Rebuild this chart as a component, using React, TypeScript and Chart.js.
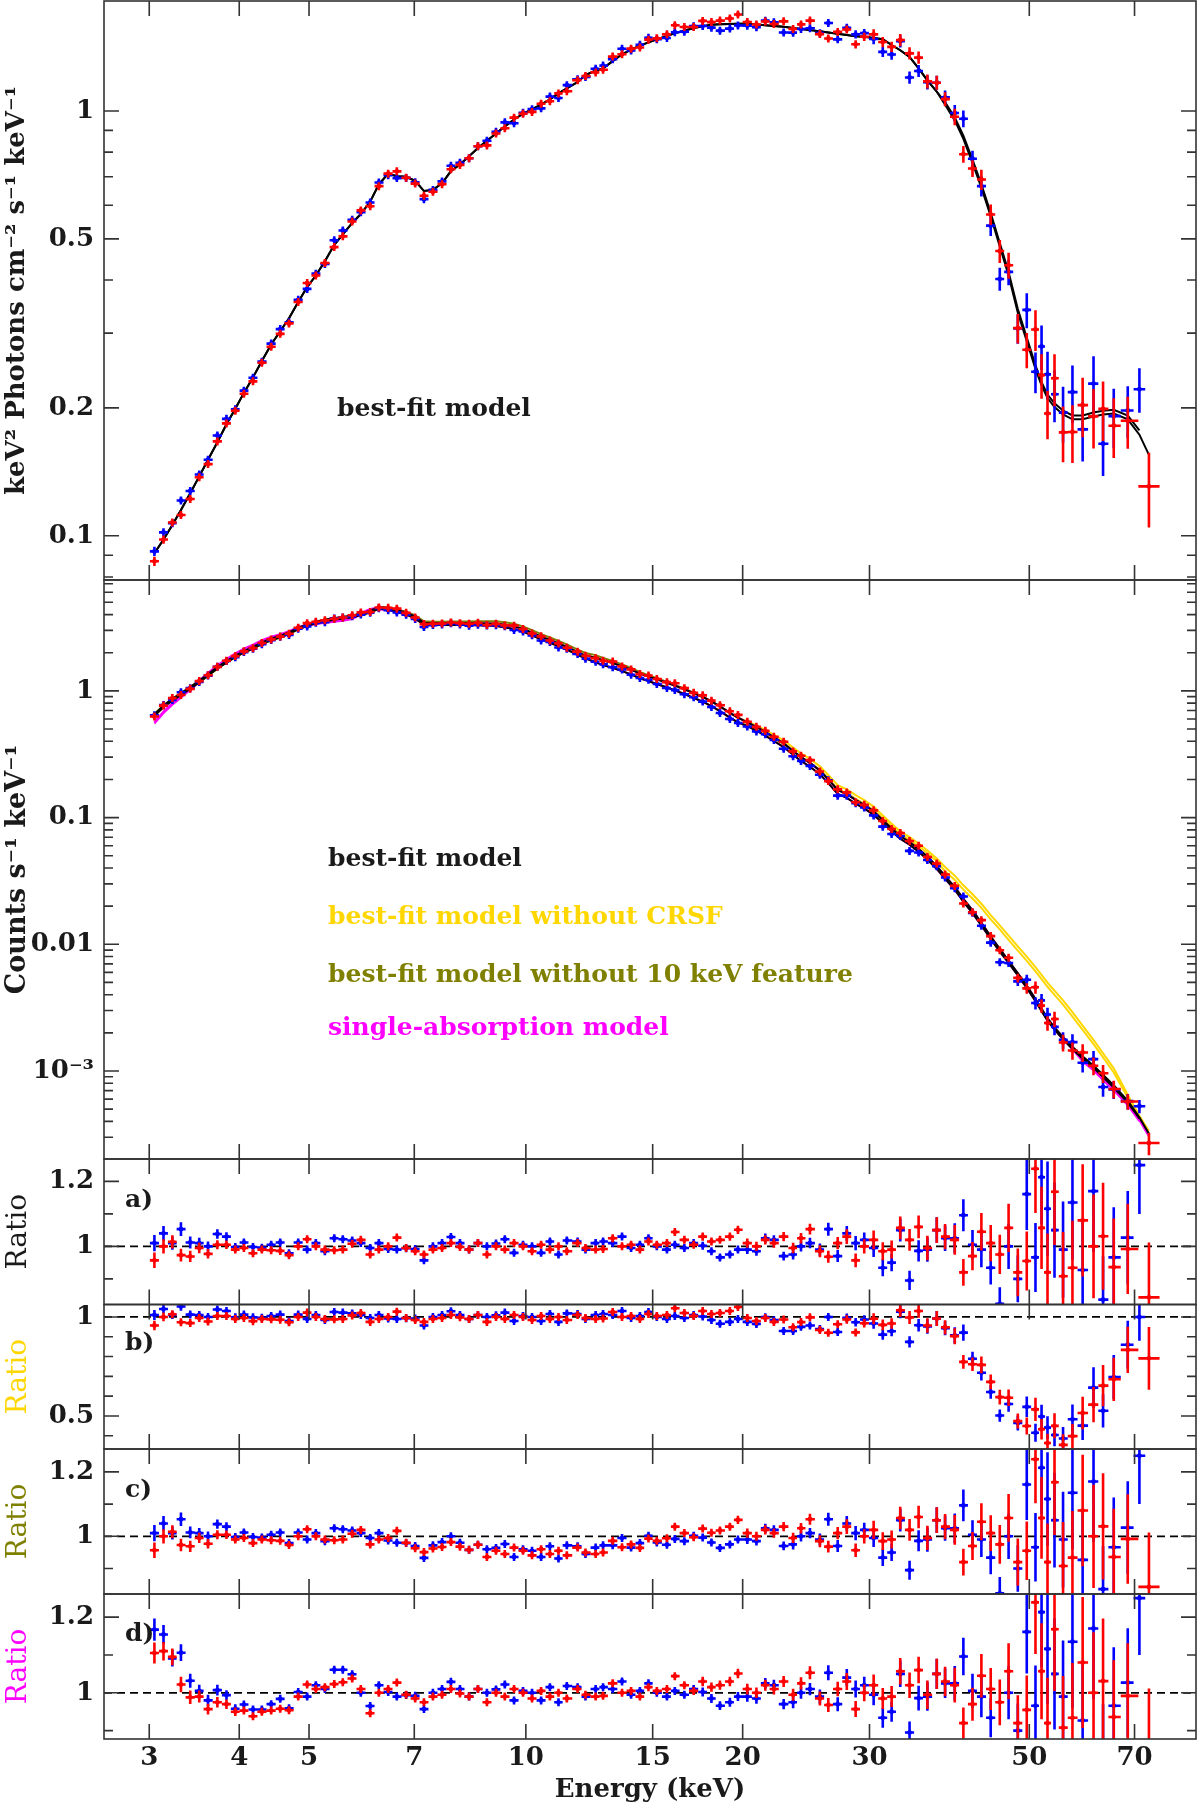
import { useEffect, useRef } from "react"
import { Chart, registerables } from "chart.js"

Chart.register(...registerables)

type Val = number | null

// bin centres (keV), shared by both detectors; null marks a bin one detector lacks
const energies = [
  3.05, 3.14, 3.23, 3.32, 3.42, 3.52, 3.62, 3.73, 3.84, 3.95,
  4.06, 4.18, 4.3, 4.43, 4.56, 4.69, 4.83, 4.97, 5.11, 5.26,
  5.42, 5.57, 5.74, 5.9, 6.08, 6.25, 6.44, 6.62, 6.82, 7.02,
  7.22, 7.43, 7.65, 7.87, 8.1, 8.34, 8.58, 8.83, 9.09, 9.35,
  9.63, 9.91, 10.2, 10.5, 10.8, 11.1, 11.4, 11.8, 12.1, 12.5,
  12.8, 13.2, 13.6, 14.0, 14.4, 14.8, 15.2, 15.7, 16.1, 16.6,
  17.1, 17.6, 18.1, 18.6, 19.2, 19.7, 20.3, 20.9, 21.5, 22.1,
  22.8, 23.5, 24.1, 24.8, 25.6, 26.3, 27.1, 27.9, 28.7, 29.5,
  30.4, 31.3, 32.2, 33.1, 34.1, 35.1, 36.1, 37.2, 38.2, 39.4,
  40.5, 41.7, 42.9, 44.2, 45.5, 46.8, 48.2, 49.6, 51.0, 52.0,
  53.0, 54.2, 55.7, 57.4, 59.3, 61.4, 63.3, 65.5, 68.5, 71.1,
  73.3,
]

// 1-sigma fractional error of each bin
const fracErr = [
  0.025, 0.022, 0.02, 0.02, 0.018, 0.016, 0.015, 0.014, 0.013, 0.012,
  0.01, 0.01, 0.01, 0.01, 0.01, 0.01, 0.01, 0.01, 0.01, 0.01,
  0.01, 0.009, 0.009, 0.009, 0.009, 0.009, 0.009, 0.009, 0.009, 0.009,
  0.009, 0.009, 0.009, 0.009, 0.009, 0.009, 0.009, 0.009, 0.009, 0.009,
  0.009, 0.009, 0.009, 0.009, 0.009, 0.009, 0.009, 0.009, 0.009, 0.009,
  0.009, 0.01, 0.01, 0.01, 0.01, 0.01, 0.01, 0.01, 0.01, 0.01,
  0.01, 0.012, 0.012, 0.012, 0.012, 0.012, 0.014, 0.014, 0.014, 0.014,
  0.014, 0.016, 0.016, 0.016, 0.019, 0.019, 0.019, 0.022, 0.022, 0.022,
  0.028, 0.028, 0.028, 0.033, 0.033, 0.033, 0.038, 0.038, 0.038, 0.045,
  0.045, 0.045, 0.055, 0.055, 0.062, 0.07, 0.08, 0.095, 0.11, 0.12,
  0.13, 0.14, 0.15, 0.155, 0.16, 0.16, 0.16, 0.16, 0.14, 0.12,
  0.2,
]

// top panel: unfolded spectrum (keV^2 photons cm^-2 s^-1 keV^-1)
const fluxRed: Val[] = [
  0.0871, 0.098, 0.1075, 0.1119, 0.1221, 0.1373, 0.1475, 0.1668, 0.1839, 0.197,
  0.2159, 0.231, 0.2554, 0.2786, 0.2988, 0.3162, 0.355, 0.3935, 0.41, 0.4386,
  0.4782, 0.5069, 0.5494, 0.5834, 0.5967, 0.6653, 0.712, 0.721, 0.6965, 0.6747,
  0.6318, 0.6455, 0.6726, 0.7292, 0.7465, 0.7742, 0.8262, 0.8297, 0.885, 0.9108,
  0.9646, 0.985, 0.9949, 1.0402, 1.0544, 1.1, 1.1131, 1.1817, 1.2089, 1.2326,
  1.2499, 1.3428, 1.36, 1.402, 1.4108, 1.4718, 1.4824, 1.515, 1.5921, 1.5759,
  1.5758, 1.6295, 1.6189, 1.632, 1.6511, 1.6869, 1.62, 1.598, 1.6238, 1.6019,
  1.6253, 1.5602, 1.599, 1.6322, 1.5169, 1.481, 1.5352, 1.5553, 1.4355, 1.495,
  1.5147, 1.4529, 1.4157, 1.4692, 1.3668, 1.3356, 1.1741, 1.1655, 1.0661, 0.969,
  0.7912, 0.7324, 0.6897, 0.5707, 0.468, 0.4334, 0.3082, 0.2741, 0.306, 0.2389,
  0.1941, 0.2348, 0.1752, 0.1756, 0.203, 0.191, 0.199, 0.1816, 0.1865, null,
  0.1307,
]
const fluxBlue: Val[] = [
  0.0919, 0.1019, 0.1071, 0.1211, 0.1275, 0.1394, 0.151, 0.1723, 0.1885, 0.1986,
  0.2196, 0.2355, 0.257, 0.2834, 0.3066, 0.3182, 0.3593, 0.3812, 0.4141, 0.4364,
  0.4961, 0.5233, 0.5548, 0.5777, 0.6089, 0.6787, 0.7063, 0.695, 0.6958, 0.6795,
  0.6201, 0.652, 0.6828, 0.7429, 0.7555, 0.7742, 0.8262, 0.851, 0.893, 0.9402,
  0.9359, 0.9899, 1.01, 1.0143, 1.081, 1.0725, 1.1503, 1.1876, 1.2029, 1.2575,
  1.2789, 1.3231, 1.4008, 1.388, 1.4321, 1.4863, 1.475, 1.485, 1.5326, 1.5373,
  1.5837, 1.5852, 1.5711, 1.5456, 1.5629, 1.589, 1.588, 1.574, 1.6318, 1.6177,
  1.5307, 1.5288, 1.56, 1.5655, 1.5246, 1.6111, 1.4744, 1.5704, 1.515, 1.5249,
  1.4776, 1.3777, 1.3585, 1.4595, 1.1993, 1.2424, 1.1682, 1.1655, 1.0763, 0.9891,
  0.959, 0.7718, 0.6653, 0.5371, 0.4024, 0.418, 0.3078, 0.3402, 0.2434, 0.279,
  0.2399, 0.2153, 0.195, 0.2179, 0.178, 0.2282, 0.1647, 0.1913, 0.1972, 0.2213,
  null,
]
const fluxModelRed: Val[] = [
  0.091, 0.098, 0.106, 0.115, 0.126, 0.138, 0.151, 0.166, 0.183, 0.199,
  0.217, 0.236, 0.258, 0.282, 0.303, 0.325, 0.355, 0.385, 0.41, 0.443,
  0.484, 0.512, 0.545, 0.572, 0.612, 0.672, 0.712, 0.702, 0.7, 0.685,
  0.648, 0.652, 0.676, 0.722, 0.748, 0.782, 0.818, 0.851, 0.885, 0.92,
  0.955, 0.985, 1.01, 1.035, 1.065, 1.1, 1.13, 1.17, 1.215, 1.245,
  1.26, 1.31, 1.36, 1.395, 1.425, 1.45, 1.475, 1.5, 1.525, 1.545,
  1.568, 1.582, 1.595, 1.6, 1.603, 1.605, 1.604, 1.598, 1.592, 1.586,
  1.578, 1.568, 1.56, 1.55, 1.54, 1.53, 1.52, 1.51, 1.5, 1.495,
  1.485, 1.475, 1.43, 1.39, 1.34, 1.26, 1.18, 1.11, 1.035, 0.95,
  0.86, 0.755, 0.66, 0.565, 0.48, 0.41, 0.335, 0.287, 0.247, 0.226,
  0.211, 0.201, 0.193, 0.188, 0.188, 0.191, 0.193, 0.194, 0.188, 0.173,
  0.155,
]
const fluxModelBlue: Val[] = [
  0.091, 0.098, 0.106, 0.115, 0.126, 0.138, 0.151, 0.166, 0.183, 0.199,
  0.217, 0.236, 0.258, 0.282, 0.303, 0.325, 0.355, 0.385, 0.41, 0.443,
  0.484, 0.512, 0.545, 0.572, 0.612, 0.672, 0.712, 0.702, 0.7, 0.685,
  0.648, 0.652, 0.676, 0.722, 0.748, 0.782, 0.818, 0.851, 0.885, 0.92,
  0.955, 0.985, 1.01, 1.035, 1.065, 1.1, 1.13, 1.17, 1.215, 1.245,
  1.26, 1.31, 1.36, 1.395, 1.425, 1.45, 1.475, 1.5, 1.525, 1.545,
  1.568, 1.582, 1.595, 1.6, 1.603, 1.605, 1.604, 1.598, 1.592, 1.586,
  1.578, 1.568, 1.56, 1.55, 1.54, 1.53, 1.52, 1.51, 1.5, 1.495,
  1.485, 1.475, 1.43, 1.39, 1.34, 1.26, 1.18, 1.11, 1.05, 0.965,
  0.875, 0.768, 0.672, 0.575, 0.489, 0.418, 0.342, 0.293, 0.252, 0.23,
  0.215, 0.205, 0.197, 0.192, 0.192, 0.195, 0.197, 0.198, 0.192, 0.177,
  null,
]

// middle panel: counts s^-1 keV^-1
const countsRed: Val[] = [
  0.627, 0.765, 0.877, 0.929, 1.037, 1.194, 1.329, 1.548, 1.729, 1.881,
  2.05, 2.173, 2.386, 2.549, 2.682, 2.822, 3.15, 3.424, 3.51, 3.604,
  3.705, 3.792, 3.951, 4.162, 4.193, 4.554, 4.52, 4.457, 4.129, 3.792,
  3.364, 3.386, 3.403, 3.464, 3.423, 3.386, 3.444, 3.315, 3.38, 3.287,
  3.272, 3.08, 2.837, 2.693, 2.495, 2.37, 2.187, 2.04, 1.891, 1.812,
  1.726, 1.702, 1.56, 1.477, 1.356, 1.32, 1.241, 1.172, 1.148, 1.051,
  0.965, 0.922, 0.837, 0.77, 0.69, 0.646, 0.571, 0.52, 0.485, 0.434,
  0.397, 0.333, 0.308, 0.284, 0.231, 0.194, 0.167, 0.158, 0.132, 0.126,
  0.114, 0.0939, 0.0812, 0.0756, 0.0653, 0.0599, 0.0488, 0.0434, 0.0355, 0.0289,
  0.021, 0.0179, 0.0155, 0.0116, 0.00897, 0.00782, 0.00543, 0.00449, 0.00458, 0.00328,
  0.00239, 0.00257, 0.00168, 0.00145, 0.0014, 0.0011, 0.000959, 0.000721, 0.000575, null,
  0.00027,
]
const countsBlue: Val[] = [
  0.642, 0.773, 0.848, 0.976, 1.051, 1.177, 1.32, 1.552, 1.72, 1.841,
  2.024, 2.151, 2.331, 2.517, 2.673, 2.757, 3.095, 3.219, 3.442, 3.481,
  3.732, 3.8, 3.874, 4.001, 4.134, 4.489, 4.332, 4.151, 3.986, 3.69,
  3.19, 3.304, 3.337, 3.41, 3.347, 3.271, 3.328, 3.285, 3.295, 3.232,
  3.024, 2.948, 2.743, 2.501, 2.436, 2.201, 2.152, 1.953, 1.792, 1.696,
  1.62, 1.538, 1.474, 1.342, 1.263, 1.223, 1.133, 1.053, 1.014, 0.94,
  0.89, 0.823, 0.746, 0.669, 0.6, 0.558, 0.523, 0.479, 0.455, 0.41,
  0.349, 0.305, 0.28, 0.255, 0.218, 0.197, 0.149, 0.149, 0.13, 0.12,
  0.104, 0.0848, 0.0742, 0.0715, 0.0546, 0.053, 0.0462, 0.0413, 0.0337, 0.0277,
  0.0238, 0.0177, 0.014, 0.0103, 0.00721, 0.00712, 0.0051, 0.00525, 0.00344, 0.00361,
  0.00279, 0.00223, 0.00176, 0.00169, 0.00116, 0.00124, 0.000747, 0.000715, 0.000578, 0.000527,
  null,
]
const countsModelRed: Val[] = [
  0.655, 0.765, 0.865, 0.955, 1.07, 1.2, 1.36, 1.54, 1.72, 1.9,
  2.06, 2.22, 2.41, 2.58, 2.72, 2.9, 3.15, 3.35, 3.51, 3.64,
  3.75, 3.83, 3.92, 4.08, 4.3, 4.6, 4.52, 4.34, 4.15, 3.85,
  3.45, 3.42, 3.42, 3.43, 3.43, 3.42, 3.41, 3.4, 3.38, 3.32,
  3.24, 3.08, 2.88, 2.68, 2.52, 2.37, 2.22, 2.02, 1.9, 1.83,
  1.74, 1.66, 1.56, 1.47, 1.37, 1.3, 1.235, 1.16, 1.1, 1.03,
  0.96, 0.895, 0.825, 0.755, 0.67, 0.615, 0.565, 0.52, 0.475, 0.43,
  0.385, 0.335, 0.3, 0.27, 0.235, 0.2, 0.165, 0.153, 0.138, 0.126,
  0.112, 0.0953, 0.082, 0.0715, 0.064, 0.0565, 0.049, 0.0413, 0.0345, 0.0283,
  0.0228, 0.0185, 0.0148, 0.0115, 0.0092, 0.0074, 0.0059, 0.0047, 0.0037, 0.0031,
  0.0026, 0.0022, 0.00185, 0.00155, 0.0013, 0.0011, 0.00093, 0.00077, 0.00058, 0.00043,
  0.00032,
]
const countsModelBlue: Val[] = [
  0.636, 0.743, 0.84, 0.927, 1.039, 1.165, 1.32, 1.495, 1.67, 1.845,
  2.0, 2.155, 2.34, 2.505, 2.641, 2.816, 3.058, 3.252, 3.408, 3.534,
  3.641, 3.718, 3.806, 3.961, 4.155, 4.444, 4.367, 4.193, 4.01, 3.72,
  3.333, 3.304, 3.304, 3.314, 3.314, 3.304, 3.295, 3.285, 3.266, 3.162,
  3.086, 2.933, 2.743, 2.552, 2.4, 2.257, 2.114, 1.924, 1.81, 1.679,
  1.596, 1.523, 1.431, 1.349, 1.257, 1.193, 1.133, 1.064, 1.009, 0.945,
  0.881, 0.821, 0.757, 0.693, 0.615, 0.564, 0.528, 0.486, 0.444, 0.402,
  0.36, 0.313, 0.28, 0.252, 0.22, 0.187, 0.154, 0.143, 0.129, 0.118,
  0.105, 0.0908, 0.0781, 0.0681, 0.061, 0.0538, 0.0467, 0.0393, 0.0329, 0.027,
  0.0217, 0.0176, 0.0141, 0.011, 0.00876, 0.00712, 0.00567, 0.00452, 0.00356, 0.00298,
  0.0025, 0.00212, 0.00178, 0.00149, 0.00125, 0.00106, 0.000894, 0.00074, 0.000563, 0.000422,
  null,
]
const noCrsfModelRed: Val[] = [
  0.655, 0.765, 0.865, 0.955, 1.07, 1.2, 1.36, 1.54, 1.72, 1.9,
  2.06, 2.22, 2.41, 2.58, 2.72, 2.9, 3.15, 3.35, 3.51, 3.64,
  3.75, 3.83, 3.92, 4.08, 4.3, 4.6, 4.52, 4.34, 4.15, 3.85,
  3.45, 3.42, 3.42, 3.43, 3.43, 3.42, 3.41, 3.4, 3.38, 3.32,
  3.24, 3.08, 2.88, 2.68, 2.52, 2.37, 2.22, 2.02, 1.9, 1.83,
  1.74, 1.66, 1.56, 1.47, 1.37, 1.3, 1.235, 1.16, 1.1, 1.03,
  0.96, 0.895, 0.825, 0.755, 0.67, 0.615, 0.5735, 0.533, 0.4916, 0.4494,
  0.4062, 0.3568, 0.321, 0.2903, 0.2538, 0.217, 0.1799, 0.1668, 0.1504, 0.1373,
  0.1221, 0.1039, 0.0894, 0.0779, 0.0701, 0.0624, 0.0549, 0.0475, 0.0407, 0.0348,
  0.0292, 0.0248, 0.0209, 0.017, 0.0141, 0.0117, 0.00962, 0.00799, 0.00659, 0.00574,
  0.00499, 0.00431, 0.00361, 0.00291, 0.00228, 0.00176, 0.00138, 0.00105, 0.00065, 0.000443,
  0.000336,
]
const noCrsfModelBlue: Val[] = [
  0.636, 0.743, 0.84, 0.927, 1.039, 1.165, 1.32, 1.495, 1.67, 1.845,
  2.0, 2.155, 2.34, 2.505, 2.641, 2.816, 3.058, 3.252, 3.408, 3.534,
  3.641, 3.718, 3.806, 3.961, 4.155, 4.444, 4.367, 4.193, 4.01, 3.72,
  3.333, 3.304, 3.304, 3.314, 3.314, 3.304, 3.295, 3.285, 3.266, 3.162,
  3.086, 2.933, 2.743, 2.552, 2.4, 2.257, 2.114, 1.924, 1.81, 1.679,
  1.596, 1.523, 1.431, 1.349, 1.257, 1.193, 1.133, 1.064, 1.009, 0.945,
  0.881, 0.821, 0.757, 0.693, 0.615, 0.564, 0.5359, 0.4982, 0.4595, 0.4201,
  0.3798, 0.3333, 0.2996, 0.2709, 0.2376, 0.2029, 0.1679, 0.1559, 0.1406, 0.1286,
  0.1145, 0.099, 0.0851, 0.0742, 0.0668, 0.0594, 0.0523, 0.0452, 0.0377, 0.0322,
  0.027, 0.023, 0.0194, 0.0157, 0.0131, 0.01083, 0.00891, 0.0074, 0.0061, 0.00531,
  0.00462, 0.00399, 0.00334, 0.00269, 0.00211, 0.00163, 0.00128, 0.000972, 0.000619, 0.000434,
  null,
]
const no10keVModelRed: Val[] = [
  0.655, 0.765, 0.865, 0.955, 1.07, 1.2, 1.36, 1.54, 1.72, 1.9,
  2.06, 2.22, 2.41, 2.58, 2.72, 2.9, 3.15, 3.35, 3.51, 3.64,
  3.75, 3.83, 3.92, 4.08, 4.3, 4.6, 4.543, 4.384, 4.213, 3.937,
  3.538, 3.519, 3.519, 3.529, 3.536, 3.533, 3.537, 3.542, 3.539, 3.476,
  3.393, 3.225, 3.016, 2.806, 2.639, 2.482, 2.325, 2.115, 1.99, 1.916,
  1.816, 1.726, 1.615, 1.515, 1.407, 1.329, 1.259, 1.179, 1.114, 1.04,
  0.968, 0.9, 0.828, 0.757, 0.67, 0.615, 0.565, 0.52, 0.475, 0.43,
  0.385, 0.335, 0.3, 0.27, 0.235, 0.2, 0.165, 0.153, 0.138, 0.126,
  0.112, 0.0953, 0.082, 0.0715, 0.064, 0.0565, 0.049, 0.0413, 0.0345, 0.0283,
  0.0228, 0.0185, 0.0148, 0.0115, 0.0092, 0.0074, 0.0059, 0.0047, 0.0037, 0.0031,
  0.0026, 0.0022, 0.00185, 0.00155, 0.0013, 0.0011, 0.00093, 0.00077, 0.00058, 0.00043,
  0.00032,
]
const singleAbsModelRed: Val[] = [
  0.567, 0.689, 0.801, 0.91, 1.049, 1.206, 1.388, 1.588, 1.782, 1.979,
  2.15, 2.317, 2.51, 2.674, 2.798, 2.959, 3.182, 3.35, 3.475, 3.551,
  3.623, 3.69, 3.806, 4.121, 4.433, 4.554, 4.475, 4.34, 4.15, 3.85,
  3.45, 3.42, 3.42, 3.43, 3.43, 3.42, 3.41, 3.4, 3.38, 3.32,
  3.24, 3.08, 2.88, 2.68, 2.52, 2.37, 2.22, 2.02, 1.9, 1.83,
  1.74, 1.66, 1.56, 1.47, 1.37, 1.3, 1.235, 1.16, 1.1, 1.03,
  0.96, 0.895, 0.825, 0.755, 0.67, 0.615, 0.565, 0.52, 0.475, 0.43,
  0.385, 0.335, 0.3, 0.27, 0.235, 0.2, 0.165, 0.153, 0.138, 0.126,
  0.112, 0.0953, 0.082, 0.0715, 0.064, 0.0565, 0.049, 0.0413, 0.0345, 0.0283,
  0.0228, 0.0185, 0.0148, 0.0115, 0.0092, 0.0074, 0.0059, 0.0047, 0.0037, 0.0031,
  0.0026, 0.0022, 0.00185, 0.00155, 0.001235, 0.001045, 0.000884, 0.000732, 0.000551, 0.000409,
  0.000304,
]
const singleAbsModelBlue: Val[] = [
  0.551, 0.669, 0.778, 0.883, 1.019, 1.171, 1.347, 1.541, 1.731, 1.922,
  2.088, 2.249, 2.438, 2.596, 2.717, 2.873, 3.089, 3.252, 3.374, 3.448,
  3.518, 3.582, 3.695, 4.001, 4.284, 4.4, 4.324, 4.193, 4.01, 3.72,
  3.333, 3.304, 3.304, 3.314, 3.314, 3.304, 3.295, 3.285, 3.266, 3.162,
  3.086, 2.933, 2.743, 2.552, 2.4, 2.257, 2.114, 1.924, 1.81, 1.679,
  1.596, 1.523, 1.431, 1.349, 1.257, 1.193, 1.133, 1.064, 1.009, 0.945,
  0.881, 0.821, 0.757, 0.693, 0.615, 0.564, 0.528, 0.486, 0.444, 0.402,
  0.36, 0.313, 0.28, 0.252, 0.22, 0.187, 0.154, 0.143, 0.129, 0.118,
  0.105, 0.0908, 0.0781, 0.0681, 0.061, 0.0538, 0.0467, 0.0393, 0.0329, 0.027,
  0.0217, 0.0176, 0.0141, 0.011, 0.00876, 0.00712, 0.00567, 0.00452, 0.00356, 0.00298,
  0.0025, 0.00212, 0.00178, 0.00149, 0.001188, 0.001007, 0.000849, 0.000703, 0.000535, 0.000401,
  null,
]

// ratio panels a) best fit, b) without CRSF, c) without 10 keV feature, d) single absorption
const ratioBestRed: Val[] = [
  0.957, 1.0, 1.014, 0.973, 0.969, 0.995, 0.977, 1.005, 1.005, 0.99,
  0.995, 0.979, 0.99, 0.988, 0.986, 0.973, 1.0, 1.022, 1.0, 0.99,
  0.988, 0.99, 1.008, 1.02, 0.975, 0.99, 1.0, 1.027, 0.995, 0.985,
  0.975, 0.99, 0.995, 1.01, 0.998, 0.99, 1.01, 0.975, 1.0, 0.99,
  1.01, 1.0, 0.985, 1.005, 0.99, 1.0, 0.985, 1.01, 0.995, 0.99,
  0.992, 1.025, 1.0, 1.005, 0.99, 1.015, 1.005, 1.01, 1.044, 1.02,
  1.005, 1.03, 1.015, 1.02, 1.03, 1.051, 1.01, 1.0, 1.02, 1.01,
  1.03, 0.995, 1.025, 1.053, 0.985, 0.968, 1.01, 1.03, 0.957, 1.0,
  1.02, 0.985, 0.99, 1.057, 1.02, 1.06, 0.995, 1.05, 1.03, 1.02,
  0.92, 0.97, 1.045, 1.01, 0.975, 1.057, 0.92, 0.955, 1.239, 1.057,
  0.92, 1.168, 0.908, 0.934, 1.08, 1.0, 1.031, 0.936, 0.992, null,
  0.843,
]
const ratioBestBlue: Val[] = [
  1.01, 1.04, 1.01, 1.053, 1.012, 1.01, 1.0, 1.038, 1.03, 0.998,
  1.012, 0.998, 0.996, 1.005, 1.012, 0.979, 1.012, 0.99, 1.01, 0.985,
  1.025, 1.022, 1.018, 1.01, 0.995, 1.01, 0.992, 0.99, 0.994, 0.992,
  0.957, 1.0, 1.01, 1.029, 1.01, 0.99, 1.01, 1.0, 1.009, 1.022,
  0.98, 1.005, 1.0, 0.98, 1.015, 0.975, 1.018, 1.015, 0.99, 1.01,
  1.015, 1.01, 1.03, 0.995, 1.005, 1.025, 1.0, 0.99, 1.005, 0.995,
  1.01, 1.002, 0.985, 0.966, 0.975, 0.99, 0.99, 0.985, 1.025, 1.02,
  0.97, 0.975, 1.0, 1.01, 0.99, 1.053, 0.97, 1.04, 1.01, 1.02,
  0.995, 0.934, 0.95, 1.05, 0.895, 0.986, 0.99, 1.05, 1.025, 1.025,
  1.096, 1.005, 0.99, 0.934, 0.823, 1.0, 0.9, 1.161, 0.966, 1.213,
  1.116, 1.05, 0.99, 1.135, 0.927, 1.17, 0.836, 0.966, 1.027, 1.25,
  null,
]
const ratioNoCrsfRed: Val[] = [
  0.957, 1.0, 1.014, 0.973, 0.969, 0.995, 0.977, 1.005, 1.005, 0.99,
  0.995, 0.979, 0.99, 0.988, 0.986, 0.973, 1.0, 1.022, 1.0, 0.99,
  0.988, 0.99, 1.008, 1.02, 0.975, 0.99, 1.0, 1.027, 0.995, 0.985,
  0.975, 0.99, 0.995, 1.01, 0.998, 0.99, 1.01, 0.975, 1.0, 0.99,
  1.01, 1.0, 0.985, 1.005, 0.99, 1.0, 0.985, 1.01, 0.995, 0.99,
  0.992, 1.025, 1.0, 1.005, 0.99, 1.015, 1.005, 1.01, 1.044, 1.02,
  1.005, 1.03, 1.015, 1.02, 1.03, 1.051, 0.995, 0.98, 0.995, 0.975,
  0.987, 0.948, 0.974, 0.998, 0.934, 0.92, 0.963, 0.987, 0.922, 0.968,
  0.991, 0.96, 0.967, 1.034, 0.997, 1.03, 0.957, 0.992, 0.948, 0.903,
  0.773, 0.761, 0.758, 0.672, 0.595, 0.592, 0.474, 0.449, 0.533, 0.433,
  0.363, 0.45, 0.354, 0.398, 0.515, 0.557, 0.653, 0.685, 0.834, null,
  0.791,
]
const ratioNoCrsfBlue: Val[] = [
  1.01, 1.04, 1.01, 1.053, 1.012, 1.01, 1.0, 1.038, 1.03, 0.998,
  1.012, 0.998, 0.996, 1.005, 1.012, 0.979, 1.012, 0.99, 1.01, 0.985,
  1.025, 1.022, 1.018, 1.01, 0.995, 1.01, 0.992, 0.99, 0.994, 0.992,
  0.957, 1.0, 1.01, 1.029, 1.01, 0.99, 1.01, 1.0, 1.009, 1.022,
  0.98, 1.005, 1.0, 0.98, 1.015, 0.975, 1.018, 1.015, 0.99, 1.01,
  1.015, 1.01, 1.03, 0.995, 1.005, 1.025, 1.0, 0.99, 1.005, 0.995,
  1.01, 1.002, 0.985, 0.966, 0.975, 0.99, 0.975, 0.965, 0.999, 0.984,
  0.929, 0.929, 0.95, 0.957, 0.939, 1.0, 0.924, 0.996, 0.973, 0.987,
  0.967, 0.911, 0.928, 1.027, 0.874, 0.958, 0.952, 0.992, 0.943, 0.907,
  0.921, 0.789, 0.718, 0.621, 0.502, 0.56, 0.464, 0.546, 0.415, 0.497,
  0.441, 0.404, 0.386, 0.483, 0.451, 0.643, 0.526, 0.696, 0.86, 1.0,
  null,
]
const ratioNo10keVRed: Val[] = [
  0.957, 1.0, 1.014, 0.973, 0.969, 0.995, 0.977, 1.005, 1.005, 0.99,
  0.995, 0.979, 0.99, 0.988, 0.986, 0.973, 1.0, 1.022, 1.0, 0.99,
  0.988, 0.99, 1.008, 1.02, 0.975, 0.99, 0.995, 1.017, 0.98, 0.963,
  0.951, 0.962, 0.967, 0.982, 0.968, 0.958, 0.974, 0.936, 0.955, 0.945,
  0.965, 0.955, 0.941, 0.96, 0.945, 0.955, 0.941, 0.965, 0.95, 0.945,
  0.95, 0.986, 0.966, 0.975, 0.964, 0.993, 0.986, 0.994, 1.03, 1.01,
  0.997, 1.024, 1.011, 1.018, 1.03, 1.051, 1.01, 1.0, 1.02, 1.01,
  1.03, 0.995, 1.025, 1.053, 0.985, 0.968, 1.01, 1.03, 0.957, 1.0,
  1.02, 0.985, 0.99, 1.057, 1.02, 1.06, 0.995, 1.05, 1.03, 1.02,
  0.92, 0.97, 1.045, 1.01, 0.975, 1.057, 0.92, 0.955, 1.239, 1.057,
  0.92, 1.168, 0.908, 0.934, 1.08, 1.0, 1.031, 0.936, 0.992, null,
  0.843,
]
const ratioNo10keVBlue: Val[] = [
  1.01, 1.04, 1.01, 1.053, 1.012, 1.01, 1.0, 1.038, 1.03, 0.998,
  1.012, 0.998, 0.996, 1.005, 1.012, 0.979, 1.012, 0.99, 1.01, 0.985,
  1.025, 1.022, 1.018, 1.01, 0.995, 1.01, 0.987, 0.98, 0.979, 0.97,
  0.933, 0.972, 0.982, 1.0, 0.98, 0.958, 0.974, 0.96, 0.964, 0.976,
  0.936, 0.96, 0.955, 0.936, 0.969, 0.931, 0.972, 0.969, 0.945, 0.965,
  0.972, 0.972, 0.995, 0.965, 0.979, 1.002, 0.981, 0.974, 0.992, 0.985,
  1.002, 0.996, 0.981, 0.964, 0.975, 0.99, 0.99, 0.985, 1.025, 1.02,
  0.97, 0.975, 1.0, 1.01, 0.99, 1.053, 0.97, 1.04, 1.01, 1.02,
  0.995, 0.934, 0.95, 1.05, 0.895, 0.986, 0.99, 1.05, 1.025, 1.025,
  1.096, 1.005, 0.99, 0.934, 0.823, 1.0, 0.9, 1.161, 0.966, 1.213,
  1.116, 1.05, 0.99, 1.135, 0.927, 1.17, 0.836, 0.966, 1.027, 1.25,
  null,
]
const ratioSingleAbsRed: Val[] = [
  1.105, 1.11, 1.095, 1.022, 0.988, 0.99, 0.957, 0.975, 0.97, 0.95,
  0.953, 0.938, 0.95, 0.953, 0.958, 0.954, 0.99, 1.022, 1.01, 1.015,
  1.023, 1.028, 1.038, 1.01, 0.946, 1.0, 1.01, 1.027, 0.995, 0.985,
  0.975, 0.99, 0.995, 1.01, 0.998, 0.99, 1.01, 0.975, 1.0, 0.99,
  1.01, 1.0, 0.985, 1.005, 0.99, 1.0, 0.985, 1.01, 0.995, 0.99,
  0.992, 1.025, 1.0, 1.005, 0.99, 1.015, 1.005, 1.01, 1.044, 1.02,
  1.005, 1.03, 1.015, 1.02, 1.03, 1.051, 1.01, 1.0, 1.02, 1.01,
  1.03, 0.995, 1.025, 1.053, 0.985, 0.968, 1.01, 1.03, 0.957, 1.0,
  1.02, 0.985, 0.99, 1.057, 1.02, 1.06, 0.995, 1.05, 1.03, 1.02,
  0.92, 0.97, 1.045, 1.01, 0.975, 1.057, 0.92, 0.955, 1.239, 1.057,
  0.92, 1.168, 0.908, 0.934, 1.08, 1.0, 1.031, 0.936, 0.992, null,
  0.843,
]
const ratioSingleAbsBlue: Val[] = [
  1.167, 1.154, 1.091, 1.106, 1.032, 1.005, 0.98, 1.007, 0.994, 0.958,
  0.969, 0.956, 0.956, 0.97, 0.984, 0.959, 1.002, 0.99, 1.02, 1.01,
  1.061, 1.061, 1.049, 1.0, 0.965, 1.02, 1.002, 0.99, 0.994, 0.992,
  0.957, 1.0, 1.01, 1.029, 1.01, 0.99, 1.01, 1.0, 1.009, 1.022,
  0.98, 1.005, 1.0, 0.98, 1.015, 0.975, 1.018, 1.015, 0.99, 1.01,
  1.015, 1.01, 1.03, 0.995, 1.005, 1.025, 1.0, 0.99, 1.005, 0.995,
  1.01, 1.002, 0.985, 0.966, 0.975, 0.99, 0.99, 0.985, 1.025, 1.02,
  0.97, 0.975, 1.0, 1.01, 0.99, 1.053, 0.97, 1.04, 1.01, 1.02,
  0.995, 0.934, 0.95, 1.05, 0.895, 0.986, 0.99, 1.05, 1.025, 1.025,
  1.096, 1.005, 0.99, 0.934, 0.823, 1.0, 0.9, 1.161, 0.966, 1.213,
  1.116, 1.05, 0.99, 1.135, 0.927, 1.17, 0.836, 0.966, 1.027, 1.25,
  null,
]

const energyTicks = [3, 4, 5, 7, 10, 15, 20, 30, 50, 70]

const FAMILY = "'DejaVu Serif', serif"
const INK = "#1a1a1a"
const RED = "#ff0000"
const BLUE = "#0000ff"
const GOLD = "#ffd700"
const OLIVE = "#808000"
const MAGENTA = "#ff00ff"

// page geometry: the canvas starts above the page so the plot frame lands at y = 1
const CANVAS_W = 1200
const CANVAS_H = 1838
const CANVAS_TOP = -29
const PAD_TOP = 30
const AXIS_W = 104
const X_AXIS_H = 70
const X_MIN = 2.596
const X_MAX = 85.2

const panels = [
  {
    id: "yFlux", height: 579, log: true, min: 0.0787, max: 1.815,
    ticks: [0.1, 0.2, 0.5, 1], labels: ["0.1", "0.2", "0.5", "1"],
    minor: [0.08, 0.09, 0.3, 0.4, 0.6, 0.7, 0.8, 0.9],
    title: "keV² Photons cm⁻² s⁻¹ keV⁻¹", titleColor: INK, titleWeight: "bold", titleSize: 26,
  },
  {
    id: "yCounts", height: 579, log: true, min: 2.02e-4, max: 7.5,
    ticks: [0.001, 0.01, 0.1, 1], labels: ["10⁻³", "0.01", "0.1", "1"],
    minor: [
      3e-4, 4e-4, 5e-4, 6e-4, 7e-4, 8e-4, 9e-4,
      0.002, 0.003, 0.004, 0.005, 0.006, 0.007, 0.008, 0.009,
      0.02, 0.03, 0.04, 0.05, 0.06, 0.07, 0.08, 0.09,
      0.2, 0.3, 0.4, 0.5, 0.6, 0.7, 0.8, 0.9,
      2, 3, 4, 5, 6, 7,
    ],
    title: "Counts s⁻¹ keV⁻¹", titleColor: INK, titleWeight: "bold", titleSize: 27,
  },
  {
    id: "yA", height: 145.5, log: false, min: 0.821, max: 1.269,
    ticks: [1, 1.2], labels: ["1", "1.2"], minor: [0.9, 1.1],
    title: "Ratio", titleColor: INK, titleWeight: "normal", titleSize: 28,
  },
  {
    id: "yB", height: 144.5, log: false, min: 0.333, max: 1.063,
    ticks: [0.5, 1], labels: ["0.5", "1"], minor: [0.4, 0.6, 0.7, 0.8, 0.9],
    title: "Ratio", titleColor: GOLD, titleWeight: "normal", titleSize: 28,
  },
  {
    id: "yC", height: 145, log: false, min: 0.821, max: 1.271,
    ticks: [1, 1.2], labels: ["1", "1.2"], minor: [0.9, 1.1],
    title: "Ratio", titleColor: OLIVE, titleWeight: "normal", titleSize: 28,
  },
  {
    id: "yD", height: 145, log: false, min: 0.878, max: 1.261,
    ticks: [1, 1.2], labels: ["1", "1.2"], minor: [0.9, 1.1],
    title: "Ratio", titleColor: MAGENTA, titleWeight: "normal", titleSize: 28,
  },
]

// text drawn inside the panels, page coordinates
const notes = [
  { text: "best-fit model", x: 337, y: 416, color: INK, base: "alphabetic" },
  { text: "best-fit model", x: 328, y: 866, color: INK, base: "alphabetic" },
  { text: "best-fit model without CRSF", x: 328, y: 924, color: GOLD, base: "alphabetic" },
  { text: "best-fit model without 10 keV feature", x: 328, y: 982, color: OLIVE, base: "alphabetic" },
  { text: "single-absorption model", x: 328, y: 1035, color: MAGENTA, base: "alphabetic" },
  { text: "a)", x: 125, y: 1200, color: INK, base: "middle" },
  { text: "b)", x: 125, y: 1343, color: INK, base: "middle" },
  { text: "c)", x: 125, y: 1490, color: INK, base: "middle" },
  { text: "d)", x: 125, y: 1634, color: INK, base: "middle" },
]

// data points with bin extents (from neighbouring bins) and error limits
function binned(values: Val[]) {
  const idx = values.flatMap((v, i) => (v == null ? [] : [i]))
  return idx.map((i, k) => {
    const e = energies[i]
    const lo = k > 0 ? Math.sqrt(energies[idx[k - 1]] * e) : null
    const hi = k < idx.length - 1 ? Math.sqrt(energies[idx[k + 1]] * e) : null
    const v = values[i] as number
    return {
      x: e,
      y: v,
      xMin: lo ?? (e * e) / (hi as number),
      xMax: hi ?? (e * e) / (lo as number),
      yMin: v * (1 - fracErr[i]),
      yMax: v * (1 + fracErr[i]),
    }
  })
}

function curve(values: Val[]) {
  return values.flatMap((v, i) => (v == null ? [] : [{ x: energies[i], y: v }]))
}

function dataSet(values: Val[], color: string, yAxisID: string, order: number) {
  return {
    type: "scatter", data: binned(values), yAxisID, xAxisID: "x", order,
    showLine: false, pointRadius: 2.4, pointBackgroundColor: color, pointBorderWidth: 0,
    clip: false, errorColor: color,
  }
}

function modelSet(values: Val[], color: string, yAxisID: string, order: number) {
  return {
    type: "line", data: curve(values), yAxisID, xAxisID: "x", order,
    borderColor: color, borderWidth: 2, pointRadius: 0, tension: 0, fill: false, clip: false,
  }
}

function unitySet(yAxisID: string) {
  return {
    type: "line", data: [{ x: X_MIN, y: 1 }, { x: X_MAX, y: 1 }], yAxisID, xAxisID: "x", order: 10,
    borderColor: "#000", borderWidth: 1.8, borderDash: [8, 5], pointRadius: 0, fill: false, clip: false,
  }
}

// clip each dataset to its own panel and draw its error crosses
const panelClip = {
  id: "panelClip",
  beforeDatasetDraw(chart: any, args: any) {
    const { ctx, chartArea } = chart
    const ys = args.meta.yScale
    ctx.save()
    ctx.beginPath()
    ctx.rect(chartArea.left, ys.top, chartArea.right - chartArea.left, ys.bottom - ys.top)
    ctx.clip()
  },
  afterDatasetDraw(chart: any, args: any) {
    const { ctx } = chart
    const ds = chart.data.datasets[args.index]
    if (ds.errorColor) {
      const xs = args.meta.xScale
      const ys = args.meta.yScale
      ctx.strokeStyle = ds.errorColor
      ctx.lineWidth = 2.6
      ctx.beginPath()
      for (const p of ds.data) {
        const px = xs.getPixelForValue(p.x)
        const py = ys.getPixelForValue(p.y)
        const x0 = Math.min(xs.getPixelForValue(p.xMin), px - 3.5)
        const x1 = Math.max(xs.getPixelForValue(p.xMax), px + 3.5)
        const y0 = Math.min(ys.getPixelForValue(p.yMax), py - 4)
        const y1 = Math.max(ys.getPixelForValue(p.yMin), py + 4)
        ctx.moveTo(x0, py)
        ctx.lineTo(x1, py)
        ctx.moveTo(px, y0)
        ctx.lineTo(px, y1)
      }
      ctx.stroke()
    }
    ctx.restore()
  },
}

// frames, inward ticks on every panel edge, and the in-panel labels
const panelDecor = {
  id: "panelDecor",
  afterDraw(chart: any) {
    const { ctx, chartArea } = chart
    const { left, right } = chartArea
    const xs = chart.scales.x
    ctx.save()
    ctx.strokeStyle = "#333"
    ctx.lineWidth = 1.6
    for (const p of panels) {
      const s = chart.scales[p.id]
      ctx.strokeRect(left, s.top, right - left, s.bottom - s.top)
      ctx.beginPath()
      for (const e of energyTicks) {
        const x = xs.getPixelForValue(e)
        ctx.moveTo(x, s.top)
        ctx.lineTo(x, s.top + 15)
        ctx.moveTo(x, s.bottom)
        ctx.lineTo(x, s.bottom - 15)
      }
      const marks = [...p.ticks.map((v) => [v, 15]), ...p.minor.map((v) => [v, 9])]
      for (const [v, len] of marks) {
        const y = s.getPixelForValue(v)
        if (y < s.top || y > s.bottom) continue
        ctx.moveTo(left, y)
        ctx.lineTo(left + len, y)
        ctx.moveTo(right, y)
        ctx.lineTo(right - len, y)
      }
      ctx.stroke()
    }
    ctx.font = `bold 25px ${FAMILY}`
    ctx.textAlign = "left"
    for (const n of notes) {
      ctx.fillStyle = n.color
      ctx.textBaseline = n.base
      ctx.fillText(n.text, n.x, n.y - CANVAS_TOP)
    }
    ctx.restore()
  },
}

export default function App() {
  const canvasRef = useRef<HTMLCanvasElement>(null)

  useEffect(() => {
    if (!canvasRef.current) return

    const tickFont = { family: FAMILY, size: 26, weight: "bold" }

    const scales: any = {
      x: {
        type: "logarithmic",
        position: "bottom",
        min: X_MIN,
        max: X_MAX,
        grid: { display: false, drawTicks: false },
        border: { display: false },
        afterBuildTicks: (s: any) => {
          s.ticks = energyTicks.map((v) => ({ value: v }))
        },
        afterFit: (s: any) => {
          s.height = X_AXIS_H
        },
        ticks: {
          autoSkip: false,
          maxRotation: 0,
          padding: 4,
          color: INK,
          font: tickFont,
          callback: (v: any) => String(v),
        },
        title: {
          display: true,
          text: "Energy (keV)",
          color: INK,
          font: { family: FAMILY, size: 26, weight: "bold" },
          padding: { top: 0, bottom: 3 },
        },
      },
    }

    panels.forEach((p, i) => {
      scales[p.id] = {
        type: p.log ? "logarithmic" : "linear",
        position: "left",
        stack: "panels",
        stackWeight: p.height,
        weight: panels.length - i,
        min: p.min,
        max: p.max,
        grid: { display: false, drawTicks: false },
        border: { display: false },
        afterBuildTicks: (s: any) => {
          s.ticks = p.ticks.map((v) => ({ value: v }))
        },
        afterFit: (s: any) => {
          s.width = AXIS_W
        },
        ticks: {
          autoSkip: false,
          padding: 10,
          color: INK,
          font: tickFont,
          callback: (_v: any, idx: number) => p.labels[idx],
        },
        title: {
          display: true,
          text: p.title,
          color: p.titleColor,
          font: { family: FAMILY, size: p.titleSize, weight: p.titleWeight },
          padding: { top: 2, bottom: 0 },
        },
      }
    })

    const datasets: any[] = [
      modelSet(fluxModelRed, "#000", "yFlux", 6),
      modelSet(fluxModelBlue, "#000", "yFlux", 6),
      dataSet(fluxBlue, BLUE, "yFlux", 5),
      dataSet(fluxRed, RED, "yFlux", 4),

      modelSet(noCrsfModelRed, GOLD, "yCounts", 9),
      modelSet(noCrsfModelBlue, GOLD, "yCounts", 9),
      modelSet(no10keVModelRed, OLIVE, "yCounts", 8),
      modelSet(singleAbsModelRed, MAGENTA, "yCounts", 7),
      modelSet(singleAbsModelBlue, MAGENTA, "yCounts", 7),
      modelSet(countsModelRed, "#000", "yCounts", 6),
      modelSet(countsModelBlue, "#000", "yCounts", 6),
      dataSet(countsBlue, BLUE, "yCounts", 5),
      dataSet(countsRed, RED, "yCounts", 4),

      unitySet("yA"),
      dataSet(ratioBestBlue, BLUE, "yA", 5),
      dataSet(ratioBestRed, RED, "yA", 4),

      unitySet("yB"),
      dataSet(ratioNoCrsfBlue, BLUE, "yB", 5),
      dataSet(ratioNoCrsfRed, RED, "yB", 4),

      unitySet("yC"),
      dataSet(ratioNo10keVBlue, BLUE, "yC", 5),
      dataSet(ratioNo10keVRed, RED, "yC", 4),

      unitySet("yD"),
      dataSet(ratioSingleAbsBlue, BLUE, "yD", 5),
      dataSet(ratioSingleAbsRed, RED, "yD", 4),
    ]

    const chart = new Chart(canvasRef.current, {
      type: "scatter",
      data: { datasets },
      options: {
        responsive: false,
        animation: false,
        devicePixelRatio: 1,
        events: [],
        layout: { padding: { top: PAD_TOP, left: 0, right: 2, bottom: 0 } },
        plugins: { legend: { display: false }, tooltip: { enabled: false } },
        scales,
      },
      plugins: [panelClip, panelDecor],
    } as any)

    return () => {
      chart.destroy()
    }
  }, [])

  return (
    <div
      style={{
        position: "absolute",
        left: 0,
        top: 0,
        width: CANVAS_W,
        height: 1809,
        overflow: "hidden",
        background: "#fff",
      }}
    >
      <canvas
        ref={canvasRef}
        width={CANVAS_W}
        height={CANVAS_H}
        style={{ position: "absolute", left: 0, top: CANVAS_TOP, width: CANVAS_W, height: CANVAS_H }}
      />
    </div>
  )
}
